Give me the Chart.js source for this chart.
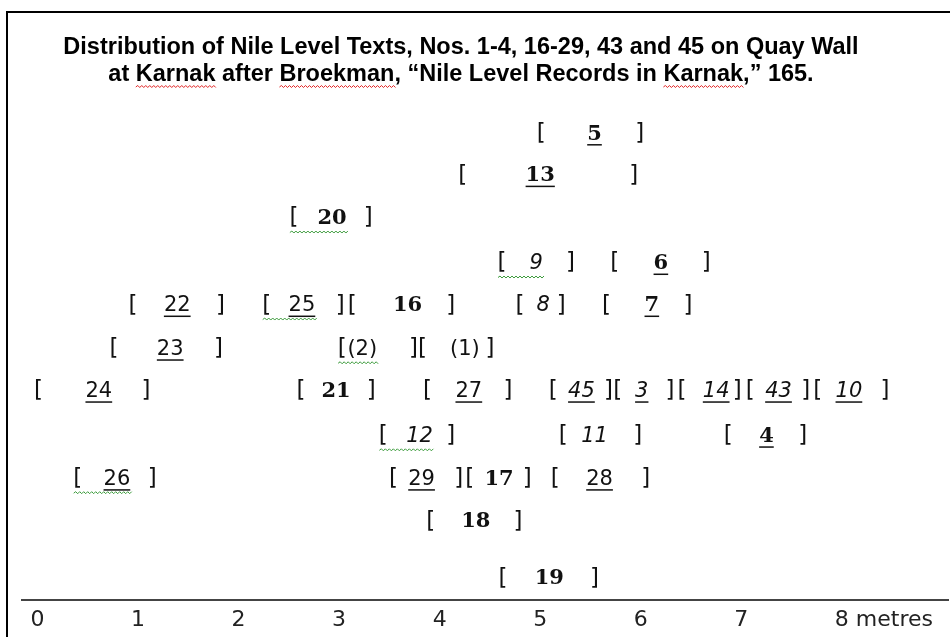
<!DOCTYPE html>
<html>
<head>
<meta charset="utf-8">
<script src="https://cdn.jsdelivr.net/npm/chart.js@4"></script>
<style>
  body { margin: 0; background: #fff; }
  #wrap { position: relative; width: 950px; height: 637px; overflow: hidden; }
  #frame { position: absolute; left: 6px; top: 11px; right: -10px; bottom: -10px;
           border-left: 2px solid #000; border-top: 2px solid #000; pointer-events: none; }
</style>
</head>
<body>
<div id="wrap">
  <canvas id="chart" width="950" height="637"></canvas>
  <div id="frame"></div>
</div>
<script>
// Text numbers, the course (row) each sits on, and its extent along the wall in metres
const textNos = ["5", "13", "20", "9", "6", "22", "25", "16", "8", "7", "23", "(2)", "(1)",
  "24", "21", "27", "45", "3", "14", "43", "10", "12", "11", "4", "26", "29", "17", "28", "18", "19"];
const levels = [10.95, 9.98, 8.98, 7.93, 7.93, 6.95, 6.95, 6.95, 6.95, 6.95, 5.93, 5.93, 5.93,
  4.95, 4.95, 4.95, 4.95, 4.95, 4.95, 4.95, 4.95, 3.9, 3.9, 3.9, 2.9, 2.9, 2.9, 2.9, 1.9, 0.58];
const starts = [5.00, 4.22, 2.54, 4.61, 5.73, 0.94, 2.27, 3.12, 4.79, 5.65, 0.75, 3.02, 3.82,
  0.00, 2.61, 3.87, 5.12, 5.76, 6.40, 7.08, 7.75, 3.43, 5.22, 6.86, 0.39, 3.53, 4.29, 5.14, 3.90, 4.62];
const ends = [6.00, 5.94, 3.30, 5.31, 6.66, 1.83, 3.02, 4.12, 5.22, 6.48, 1.81, 3.75, 4.51,
  1.09, 3.33, 4.69, 5.69, 6.30, 6.97, 7.65, 8.44, 4.12, 5.98, 7.62, 1.15, 4.20, 4.88, 6.06, 4.79, 5.55];
const centres = [5.54, 5.00, 2.93, 4.96, 6.20, 1.39, 2.63, 3.68, 5.03, 6.11, 1.32, 3.23, 4.25,
  0.61, 2.97, 4.29, 5.41, 6.01, 6.75, 7.37, 8.07, 3.80, 5.54, 7.25, 0.79, 3.82, 4.59, 5.59, 4.36, 5.09];
const tickValues = [0, 1, 2, 3, 4, 5, 6, 7, 8];

// how each number is printed in the source
const boldNos = ["5", "13", "20", "6", "16", "7", "21", "4", "17", "18", "19"];
const italicNos = ["9", "8", "45", "3", "14", "43", "10", "12", "11"];
const underlinedNos = ["5", "13", "6", "22", "25", "7", "23", "24", "27", "45", "3", "14", "43", "10", "4", "26", "29", "28"];
const flaggedNos = ["20", "9", "25", "(2)", "12", "26"];

const titleLines = [
  "Distribution of Nile Level Texts, Nos. 1-4, 16-29, 43 and 45 on Quay Wall",
  "at Karnak after Broekman, \u201cNile Level Records in Karnak,\u201d 165."
];
const flaggedTitleWords = ["Karnak", "Broekman", "Karnak"];
const titleFont = { family: "'Liberation Sans'", weight: "bold", size: 23.5, lineHeight: 1.15 };

function squiggle(ctx, x0, x1, y, color) {
  ctx.save();
  ctx.strokeStyle = color;
  ctx.lineWidth = 1;
  ctx.beginPath();
  let up = true;
  ctx.moveTo(x0, y);
  for (let x = x0; x < x1; x += 2) {
    ctx.lineTo(x + 2, up ? y - 1.5 : y + 0.5);
    up = !up;
  }
  ctx.stroke();
  ctx.restore();
}

const textsPlugin = {
  id: "texts",
  afterLayout(chart) {
    // the title is centred on the original page, left of this crop's middle
    const tb = chart.titleBlock;
    if (tb) tb.right = 2 * 461 - tb.left;
  },
  afterDatasetsDraw(chart) {
    const ctx = chart.ctx;
    const xs = chart.scales.x;
    const meta = chart.getDatasetMeta(0);
    ctx.save();
    ctx.textBaseline = "middle";
    ctx.fillStyle = "#111";
    textNos.forEach((no, i) => {
      const pt = meta.data[i];
      const y = pt.y + 4; // glyphs sit a little high on a 'middle' baseline
      const xa = xs.getPixelForValue(starts[i]);
      const xb = xs.getPixelForValue(ends[i]);
      ctx.textAlign = "center";
      ctx.font = "23px 'DejaVu Sans'";
      ctx.fillText("[", xa + 1, y);
      ctx.fillText("]", xb - 1, y);

      let font = "21px 'DejaVu Sans'";
      if (boldNos.includes(no)) font = "bold 21px 'DejaVu Serif'";
      else if (italicNos.includes(no)) font = "italic 21px 'DejaVu Sans'";
      ctx.font = font;
      ctx.fillText(no, pt.x, y);
      const w = ctx.measureText(no).width;
      if (underlinedNos.includes(no)) {
        ctx.fillRect(pt.x - w / 2, y + 10, w, 1.5);
      }
      if (flaggedNos.includes(no)) {
        squiggle(ctx, xa - 3, pt.x + w / 2, y + 14, "#3a9a3a");
      }
    });

    // spelling marks under the title words
    const tb = chart.titleBlock;
    if (tb) {
      ctx.font = "bold " + titleFont.size + "px " + titleFont.family;
      const cx = (tb.left + tb.right) / 2;
      const line = titleLines[1];
      const lineLeft = cx - ctx.measureText(line).width / 2;
      let from = 0;
      flaggedTitleWords.forEach((word) => {
        const at = line.indexOf(word, from);
        from = at + word.length;
        const x0 = lineLeft + ctx.measureText(line.slice(0, at)).width;
        const x1 = x0 + ctx.measureText(word).width;
        squiggle(ctx, x0, x1, 87, "#e02020");
      });
    }
    ctx.restore();
  }
};

new Chart(document.getElementById("chart"), {
  type: "scatter",
  data: {
    datasets: [{
      data: centres.map((c, i) => ({ x: c, y: levels[i] })),
      pointRadius: 0,
      pointHoverRadius: 0,
    }],
  },
  options: {
    responsive: false,
    animation: false,
    events: [],
    layout: { padding: { left: 22, right: 0, top: 0, bottom: -4.5 } },
    scales: {
      x: {
        type: "linear",
        min: -0.154,
        max: 9.06,
        afterBuildTicks: (scale) => { scale.ticks = tickValues.map((v) => ({ value: v })); },
        grid: { display: false, drawTicks: false },
        border: { display: true, color: "#444", width: 2 },
        ticks: {
          align: "start",
          labelOffset: -7,
          padding: 10,
          maxRotation: 0,
          minRotation: 0,
          autoSkip: false,
          color: "#222",
          font: { family: "'DejaVu Sans'", size: 22, lineHeight: 1 },
          callback: (v) => (v === 8 ? "8 metres" : String(v)),
        },
      },
      y: {
        display: false,
        min: 0,
        max: 11.65,
      },
    },
    plugins: {
      legend: { display: false },
      tooltip: { enabled: false },
      title: {
        display: true,
        text: titleLines,
        color: "#000",
        font: titleFont,
        padding: { top: 34, bottom: 12 },
      },
    },
  },
  plugins: [textsPlugin],
});
</script>
</body>
</html>
